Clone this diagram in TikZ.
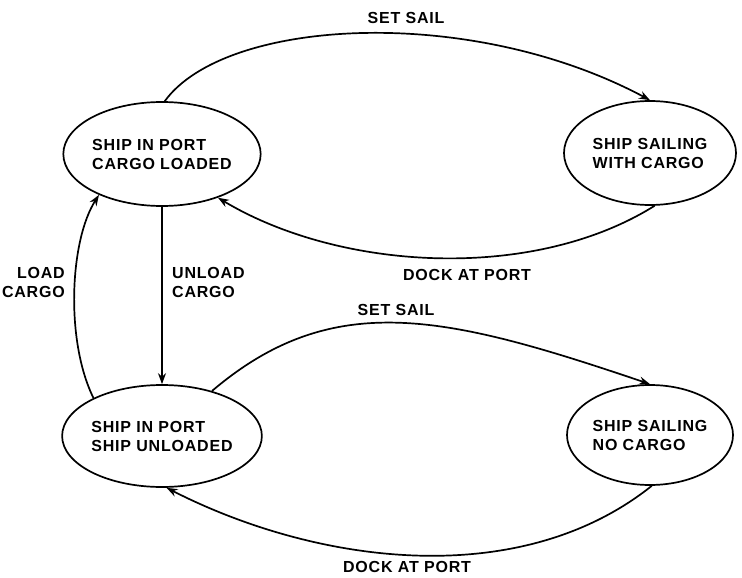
\documentclass[tikz,border=0pt]{standalone}
\usepackage{fontspec}
\setmainfont{Liberation Sans}[LetterSpace=5]
\usetikzlibrary{shapes.geometric, arrows.meta}

\begin{document}
\begin{tikzpicture}[x=1pt, y=-1pt,
    state/.style={draw, ellipse, line width=1.7pt, inner sep=0pt, align=left,
      font=\fontsize{16}{19}\selectfont\bfseries},
    lbl/.style={font=\fontsize{16}{19}\selectfont\bfseries, inner sep=0pt},
    trans/.style={line width=1.7pt, -{Stealth[length=11pt, width=8pt]}}]
  \useasboundingbox (0,0) rectangle (742,578);
  %% the four states of the ship
  \node[state, minimum width=176pt, minimum height=104pt] (loaded) at (162,154)
    {SHIP IN PORT\\CARGO LOADED};
  \node[state, minimum width=172pt, minimum height=104pt] (sailfull) at (650,153)
    {SHIP SAILING\\WITH CARGO};
  \node[state, minimum width=176pt, minimum height=102pt] (unloaded) at (162,436)
    {SHIP IN PORT\\SHIP UNLOADED};
  \node[state, minimum width=166pt, minimum height=100pt] (sailempty) at (650,435)
    {SHIP SAILING\\NO CARGO};
  %% transitions, upper pair
  \draw[trans] (loaded.87) .. controls (225,18) and (470,4) .. (sailfull.north);
  \draw[trans] (sailfull.275) .. controls (533,282) and (340,271) .. (loaded.-38);
  \node[lbl] (setsailA) at (406,18) {SET SAIL};
  \node[lbl] (dockA) at (467,275) {DOCK AT PORT};
  %% loading and unloading in port
  \draw[trans] (loaded.south) -- (unloaded.north);
  \draw[trans] (unloaded.151) .. controls (65,340) and (70,240) .. (loaded.213);
  \node[lbl, align=left, anchor=west] (unload) at (172,282) {UNLOAD\\CARGO};
  \node[lbl, align=right, anchor=east] (load) at (65,282) {LOAD\\CARGO};
  %% transitions, lower pair
  \draw[trans] (unloaded.42) .. controls (333,288) and (446,315) .. (sailempty.north);
  \draw[trans] (sailempty.272) .. controls (520,591) and (318,565) .. (unloaded.275);
  \node[lbl] (setsailB) at (396,310) {SET SAIL};
  \node[lbl] (dockB) at (407,567) {DOCK AT PORT};
\end{tikzpicture}
\end{document}
